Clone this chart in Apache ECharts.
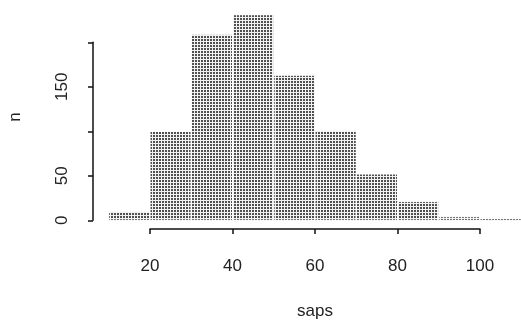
<!DOCTYPE html>
<html>
<head>
<meta charset="utf-8">
<script src="https://cdn.jsdelivr.net/npm/echarts@6/dist/echarts.min.js"></script>
<style>html,body{margin:0;padding:0;background:#fff;}#c{width:521px;height:321px;}</style>
</head>
<body>
<div id="c"></div>
<script>
var binStart = [10, 20, 30, 40, 50, 60, 70, 80, 90, 100];
var binEnd   = [20, 30, 40, 50, 60, 70, 80, 90, 100, 110];
var counts   = [10, 100, 209, 231, 163, 101, 52, 21, 4, 2];
var xTicks = [20, 40, 60, 80, 100];
var yTicks = [0, 50, 150];

var tile = document.createElement('canvas');
tile.width = 3; tile.height = 3;
var g = tile.getContext('2d');
g.fillStyle = '#f2f2f2'; g.fillRect(0, 0, 3, 3);
g.fillStyle = '#505050'; g.fillRect(0, 0, 2, 2);
var pattern = {image: tile, repeat: 'repeat'};

var data = binStart.map(function (s, i) { return [s, binEnd[i], counts[i]]; });
var font = 'Liberation Sans, Arial, sans-serif';

var chart = echarts.init(document.getElementById('c'), null, {renderer: 'canvas'});
chart.setOption({
  backgroundColor: '#fff',
  animation: false,
  grid: [
    {left: 108.75, right: -0.25, top: 42.3, bottom: 100.7, containLabel: false, outerBoundsMode: 'none'},
    {left: 150, right: 41, top: 200, bottom: 92, containLabel: false, outerBoundsMode: 'none'}
  ],
  xAxis: [
    {gridIndex: 0, type: 'value', min: 10, max: 110, show: true,
     axisLine: {show: false}, axisTick: {show: false}, axisLabel: {show: false}, splitLine: {show: false},
     name: 'saps', nameLocation: 'middle', nameGap: 83,
     nameTextStyle: {fontFamily: font, fontSize: 17, color: '#222'}},
    {gridIndex: 1, type: 'value', min: 20, max: 100, interval: 20,
     axisLine: {show: true, lineStyle: {color: '#111', width: 1.5}},
     axisTick: {show: true, length: 5, lineStyle: {color: '#111', width: 1.5}},
     axisLabel: {show: true, margin: 29, fontFamily: font, fontSize: 17, color: '#222',
       formatter: function (v) { return xTicks.indexOf(v) >= 0 ? String(v) : ''; }},
     splitLine: {show: false}}
  ],
  yAxis: [
    {gridIndex: 0, type: 'value', min: 0, max: 200, interval: 50, offset: 15.75,
     axisLine: {show: true, lineStyle: {color: '#111', width: 1.5}},
     axisTick: {show: true, length: 5, lineStyle: {color: '#111', width: 1.5}},
     axisLabel: {show: true, rotate: 90, margin: 22, fontFamily: font, fontSize: 17, color: '#222',
       formatter: function (v) { return yTicks.indexOf(v) >= 0 ? String(v) : ''; }},
     splitLine: {show: false}},
    {gridIndex: 1, type: 'value', show: false, min: 0, max: 1}
  ],
  graphic: [
    {type: 'text', x: 15, y: 117, rotation: Math.PI / 2,
     style: {text: 'n', font: '17px ' + font, fill: '#222', align: 'center', verticalAlign: 'middle'}}
  ],
  series: [{
    type: 'custom',
    xAxisIndex: 0, yAxisIndex: 0,
    data: data,
    encode: {x: [0, 1], y: 2},
    renderItem: function (params, api) {
      var a = api.coord([api.value(0), 0]);
      var b = api.coord([api.value(1), api.value(2)]);
      return {type: 'rect',
        shape: {x: a[0], y: b[1], width: b[0] - a[0], height: a[1] - b[1]},
        style: {fill: pattern, stroke: '#fff', lineWidth: 1}};
    }
  }]
});
</script>
</body>
</html>
